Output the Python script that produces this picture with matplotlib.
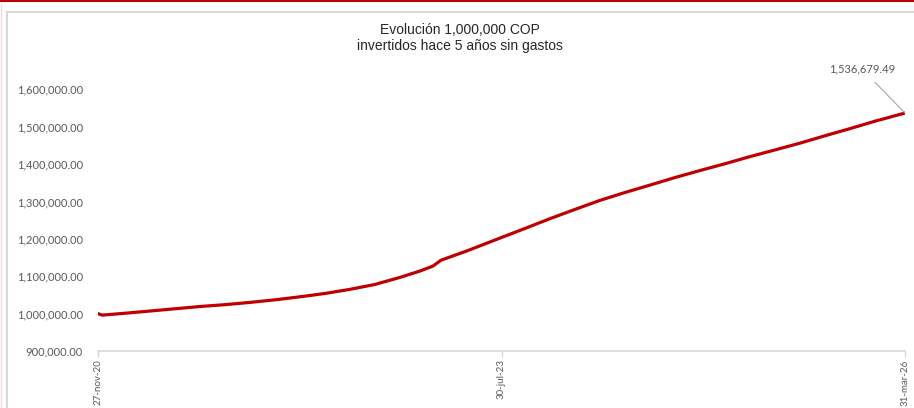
import matplotlib
matplotlib.use("Agg")
import matplotlib.pyplot as plt
import matplotlib.ticker as mticker
import numpy as np
import pandas as pd
from matplotlib.patches import Rectangle
from matplotlib.lines import Line2D

# Values (estimated)
dates = pd.to_datetime([
    "2020-11-27", "2020-12-07", "2021-01-31", "2021-04-02", "2021-06-01",
    "2021-07-31", "2021-09-30", "2021-11-29", "2022-01-29", "2022-03-30",
    "2022-05-30", "2022-07-29", "2022-09-27", "2022-11-27", "2023-01-14",
    "2023-02-14", "2023-02-24", "2023-03-06", "2023-05-08", "2023-07-26",
    "2023-09-25", "2023-11-24", "2024-01-24", "2024-03-24", "2024-05-23",
    "2024-07-23", "2024-09-21", "2024-11-21", "2025-01-20", "2025-03-21",
    "2025-05-21", "2025-07-20", "2025-09-19", "2025-11-18", "2026-01-18",
    "2026-03-31",
])
values = [
    1000000, 996000, 1001000, 1007000, 1013000,
    1019000, 1024000, 1030000, 1037000, 1045000,
    1054000, 1065000, 1078000, 1097000, 1114000,
    1127000, 1135000, 1143000, 1168000, 1202000,
    1228000, 1254000, 1279000, 1303000, 1324000,
    1344000, 1364000, 1383000, 1401000, 1420000,
    1438000, 1456000, 1476000, 1495000, 1515000,
    1536679.49,
]
tick_dates = pd.to_datetime(["2020-11-27", "2023-07-30", "2026-03-31"])
tick_labels = ["27-nov-20", "30-jul-23", "31-mar-26"]
y_ticks = np.arange(900000, 1600001, 100000)

title = "Evolución 1,000,000 COP\ninvertidos hace 5 años sin gastos"

fig = plt.figure(figsize=(9.14, 4.08), dpi=100)

# frame decorations like the spreadsheet screenshot
fig.add_artist(Line2D([0, 1], [0.998, 0.998], color="#c00000", lw=1.5, transform=fig.transFigure))
fig.add_artist(Line2D([0.0015, 0.0015], [0, 0.99], color="#f6dede", lw=1, transform=fig.transFigure))
fig.add_artist(Rectangle((7 / 914, -0.05), 1.1, 0.05 + 1 - 12 / 408, fill=False,
                         edgecolor="#d9d9d9", lw=1.5, transform=fig.transFigure))

ax = fig.add_axes([98 / 914, 1 - 351 / 408, (905 - 98) / 914, (351 - 52) / 408])
ax.plot(dates, values, color="#c00000", lw=2.3, solid_capstyle="round", solid_joinstyle="round")

ax.set_xlim(dates[0], dates[-1])
ax.set_ylim(900000, 1700000)
ax.set_yticks(y_ticks)
ax.yaxis.set_major_formatter(mticker.FuncFormatter(lambda v, p: f"{v:,.2f}"))
ax.set_xticks(tick_dates)
ax.set_xticklabels(tick_labels, rotation=90)

for s in ["top", "right", "left"]:
    ax.spines[s].set_visible(False)
ax.spines["bottom"].set_color("#d9d9d9")
ax.spines["bottom"].set_linewidth(1.2)

ax.tick_params(axis="y", length=0, pad=11, labelsize=8, labelcolor="#595959")
ax.tick_params(axis="x", length=4, width=1, color="#d9d9d9", pad=2, labelsize=7, labelcolor="#595959")
for lab in ax.get_xticklabels() + ax.get_yticklabels():
    lab.set_fontfamily("Lato")

fig.text(460 / 914, 1 - 38 / 408, title, ha="center", va="center", fontsize=10,
         family="Liberation Sans", color="#262626", linespacing=1.25)

# data label for the last point
ax.annotate("1,536,679.49", xy=(dates[-1], values[-1]), xytext=(862 / 914, 1 - 69 / 408),
            textcoords="figure fraction", ha="center", va="center", fontsize=8,
            family="Lato", color="#595959",
            arrowprops=dict(arrowstyle="-", color="#a6a6a6", lw=0.8, shrinkA=5, shrinkB=0))

fig.savefig("out.png", dpi=100)
